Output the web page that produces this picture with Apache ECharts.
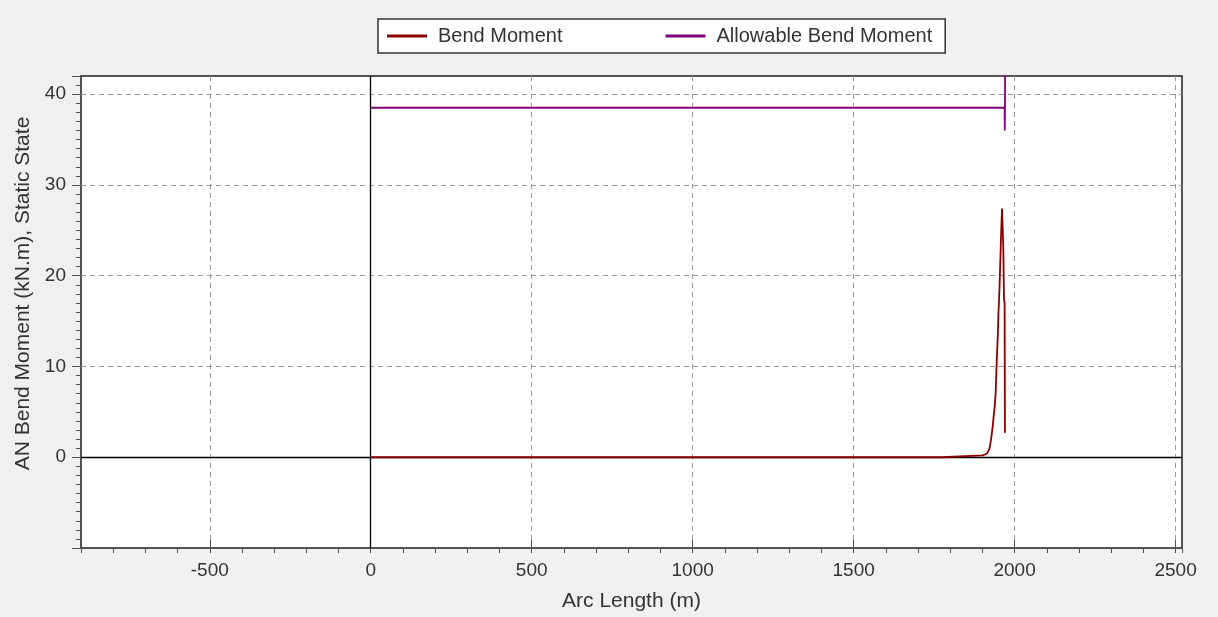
<!DOCTYPE html>
<html>
<head>
<meta charset="utf-8">
<script src="https://cdn.jsdelivr.net/npm/echarts@6/dist/echarts.min.js"></script>
<style>
html,body{margin:0;padding:0;background:#f0f0f0;}
#c{width:1218px;height:617px;}
</style>
</head>
<body>
<div id="c"></div>
<script>
// ---- data ----
const seriesNames = ['Bend Moment', 'Allowable Bend Moment'];
const bendArc   = [0, 1775, 1778, 1900, 1908, 1915, 1922, 1927, 1932, 1935, 1938, 1941, 1943, 1945, 1948, 1950, 1953, 1956, 1958, 1961, 1964, 1965, 1967, 1969, 1970];
const bendValue = [0, 0,    0.2,  0.2,  0.3,  0.45, 0.95, 2.0,  3.4,  4.5,  5.5,  7.0,  9.0,  11.0, 13.5, 16.0, 18.5, 22.0, 24.5, 27.4, 27.4, 23.0, 17.5, 17.0, 2.7];
const allowArc   = [0,    1969, 1969.5, 1970, 1974, 1975];
const allowValue = [38.5, 38.5, 36.0,   38.5, 38.5, 80];
const xTickValues = [-500, 0, 500, 1000, 1500, 2000, 2500];
const yTickValues = [0, 10, 20, 30, 40];
const xName = 'Arc Length (m)';
const yName = 'AN Bend Moment (kN.m), Static State';

const font = "'Liberation Sans', Arial, sans-serif";
const zip = (a, b) => a.map((v, i) => [v, b[i]]);
const chart = echarts.init(document.getElementById('c'), null, {renderer: 'canvas'});

const gridLine = {type: [5, 4], color: '#9a9a9a', width: 1};
const tickColor = '#505050';

const option = {
  backgroundColor: '#f0f0f0',
  animation: false,
  textStyle: {fontFamily: font},
  legend: {
    left: 378, top: 19,
    backgroundColor: '#ffffff',
    borderColor: '#333333', borderWidth: 1.5, borderRadius: 0,
    padding: [7, 13, 7, 9],
    itemWidth: 40, itemHeight: 3, itemGap: 103,
    selectedMode: false,
    textStyle: {fontSize: 20, color: '#333', fontFamily: font, padding: [0, 0, 0, 6]},
    data: seriesNames.map(n => ({name: n, icon: 'rect'}))
  },
  grid: {
    left: 81, right: 36, top: 76, bottom: 63,
    show: true, backgroundColor: '#ffffff',
    borderColor: '#1e1e1e', borderWidth: 1.5
  },
  xAxis: [
    {
      type: 'value', min: -900, max: 2520, splitNumber: 7,
      axisLine: {show: false, onZero: false},
      axisTick: {inside: true, length: 8, lineStyle: {color: tickColor}},
      axisLabel: {
        fontSize: 19, color: '#333', margin: 13, fontFamily: font,
        formatter: v => xTickValues.includes(v) ? String(v) : ''
      },
      splitLine: {show: true, showMinLine: false, showMaxLine: false, lineStyle: gridLine},
      name: xName, nameLocation: 'middle', nameGap: 43,
      nameTextStyle: {fontSize: 21, color: '#333', fontFamily: font}
    },
    {
      type: 'value', min: -900, max: 2520, interval: 100, position: 'bottom',
      axisLine: {show: false, onZero: false},
      axisTick: {length: 5, lineStyle: {color: tickColor}},
      axisLabel: {show: false},
      splitLine: {show: false}
    }
  ],
  yAxis: [
    {
      type: 'value', min: -10, max: 42, interval: 10,
      axisLine: {show: false, onZero: false},
      axisTick: {length: 9, lineStyle: {color: tickColor}},
      axisLabel: {
        fontSize: 19, color: '#333', margin: 15, fontFamily: font,
        formatter: v => yTickValues.includes(v) ? String(v) : ''
      },
      splitLine: {show: true, showMinLine: false, showMaxLine: false, lineStyle: gridLine},
      name: yName, nameLocation: 'middle', nameGap: 37,
      nameTextStyle: {fontSize: 21, color: '#333', fontFamily: font, padding: [0, 0, 0, 37]}
    },
    {
      type: 'value', min: -10, max: 42, interval: 1, position: 'left',
      axisLine: {show: false, onZero: false},
      axisTick: {length: 5, lineStyle: {color: tickColor}},
      axisLabel: {show: false},
      splitLine: {show: false}
    }
  ],
  series: [
    {
      name: 'zero', type: 'line', xAxisIndex: 0, yAxisIndex: 0,
      data: [[0, 0]], symbol: 'none', lineStyle: {opacity: 0}, silent: true, z: 1,
      markLine: {
        silent: true, symbol: 'none', z: 1, animation: false,
        label: {show: false},
        lineStyle: {color: '#000', type: 'solid', width: 1.3},
        emphasis: {disabled: true},
        data: [{yAxis: 0}, {xAxis: 0}]
      }
    },
    {
      name: seriesNames[0], type: 'line', xAxisIndex: 0, yAxisIndex: 0,
      data: zip(bendArc, bendValue), symbol: 'none', z: 3,
      color: '#8b0000', lineStyle: {color: '#8b0000', width: 1.8}
    },
    {
      name: seriesNames[1], type: 'line', xAxisIndex: 0, yAxisIndex: 0,
      data: zip(allowArc, allowValue), symbol: 'none', z: 3,
      color: '#800080', lineStyle: {color: '#800080', width: 1.8}
    }
  ]
};
chart.setOption(option);
</script>
</body>
</html>
